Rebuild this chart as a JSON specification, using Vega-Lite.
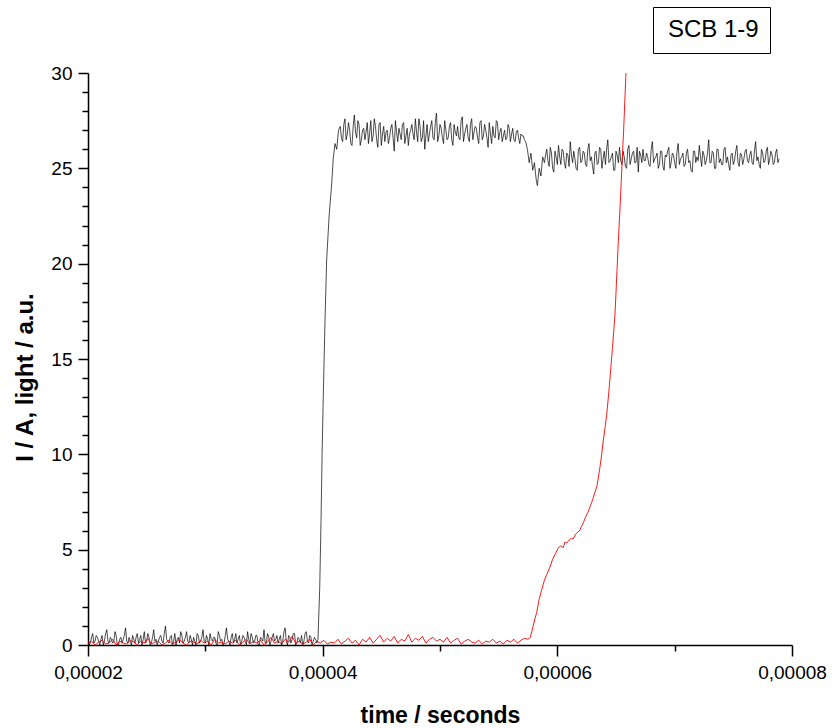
{
"$schema":"https://vega.github.io/schema/vega-lite/v6.json",
"width":704,"height":572,
"autosize":{"type":"none"},
"padding":{"left":88,"top":73,"right":40,"bottom":83},
"background":"#ffffff",
"config":{
"view":{"stroke":null},
"font":"Liberation Sans",
"axis":{"domainColor":"#000000","domainWidth":1.5,"tickColor":"#000000","tickWidth":1.5,"labelFont":"Liberation Sans","labelFontSize":19,"labelColor":"#000000","titleFont":"Liberation Sans","titleFontSize":23,"titleFontWeight":"bold","titleColor":"#000000","grid":false,"labelOverlap":false,"labelBound":false,"labelFlush":false},
"legend":{"labelFont":"Liberation Sans"}
},
"datasets":{
"black":[
{"t":2.00e-5,"v":0.3},{"t":2.02e-5,"v":0.1},{"t":2.04e-5,"v":0.6},{"t":2.06e-5,"v":0.2},{"t":2.08e-5,"v":0.4},{"t":2.10e-5,"v":0.0},{"t":2.12e-5,"v":0.5},{"t":2.14e-5,"v":0.2},{"t":2.16e-5,"v":0.8},{"t":2.18e-5,"v":0.1},
{"t":2.20e-5,"v":0.3},{"t":2.22e-5,"v":0.2},{"t":2.24e-5,"v":0.5},{"t":2.26e-5,"v":0.0},{"t":2.28e-5,"v":0.4},{"t":2.30e-5,"v":0.3},{"t":2.32e-5,"v":0.9},{"t":2.34e-5,"v":0.1},{"t":2.36e-5,"v":0.2},{"t":2.38e-5,"v":0.5},
{"t":2.40e-5,"v":0.1},{"t":2.42e-5,"v":0.6},{"t":2.44e-5,"v":0.3},{"t":2.46e-5,"v":0.0},{"t":2.48e-5,"v":0.7},{"t":2.50e-5,"v":0.2},{"t":2.52e-5,"v":0.4},{"t":2.54e-5,"v":0.1},{"t":2.56e-5,"v":0.8},{"t":2.58e-5,"v":0.3},
{"t":2.60e-5,"v":0.2},{"t":2.62e-5,"v":0.5},{"t":2.64e-5,"v":0.1},{"t":2.66e-5,"v":1.0},{"t":2.68e-5,"v":0.2},{"t":2.70e-5,"v":0.4},{"t":2.72e-5,"v":0.0},{"t":2.74e-5,"v":0.6},{"t":2.76e-5,"v":0.3},{"t":2.78e-5,"v":0.1},
{"t":2.80e-5,"v":0.5},{"t":2.82e-5,"v":0.2},{"t":2.84e-5,"v":0.7},{"t":2.86e-5,"v":0.1},{"t":2.88e-5,"v":0.3},{"t":2.90e-5,"v":0.4},{"t":2.92e-5,"v":0.0},{"t":2.94e-5,"v":0.5},{"t":2.96e-5,"v":0.2},{"t":2.98e-5,"v":0.8},
{"t":3.00e-5,"v":0.1},{"t":3.02e-5,"v":0.3},{"t":3.04e-5,"v":0.6},{"t":3.06e-5,"v":0.2},{"t":3.08e-5,"v":0.4},{"t":3.10e-5,"v":0.0},{"t":3.12e-5,"v":0.5},{"t":3.14e-5,"v":0.3},{"t":3.16e-5,"v":0.1},{"t":3.18e-5,"v":0.9},
{"t":3.20e-5,"v":0.2},{"t":3.22e-5,"v":0.4},{"t":3.24e-5,"v":0.1},{"t":3.26e-5,"v":0.6},{"t":3.28e-5,"v":0.3},{"t":3.30e-5,"v":0.0},{"t":3.32e-5,"v":0.5},{"t":3.34e-5,"v":0.2},{"t":3.36e-5,"v":0.7},{"t":3.38e-5,"v":0.1},
{"t":3.40e-5,"v":0.4},{"t":3.42e-5,"v":0.2},{"t":3.44e-5,"v":0.5},{"t":3.46e-5,"v":0.0},{"t":3.48e-5,"v":0.3},{"t":3.50e-5,"v":0.8},{"t":3.52e-5,"v":0.1},{"t":3.54e-5,"v":0.4},{"t":3.56e-5,"v":0.2},{"t":3.58e-5,"v":0.6},
{"t":3.60e-5,"v":0.3},{"t":3.62e-5,"v":0.1},{"t":3.64e-5,"v":0.5},{"t":3.66e-5,"v":0.2},{"t":3.68e-5,"v":0.9},{"t":3.70e-5,"v":0.0},{"t":3.72e-5,"v":0.4},{"t":3.74e-5,"v":0.3},{"t":3.76e-5,"v":0.6},{"t":3.78e-5,"v":0.1},
{"t":3.80e-5,"v":0.3},{"t":3.82e-5,"v":0.5},{"t":3.84e-5,"v":0.2},{"t":3.86e-5,"v":0.7},{"t":3.88e-5,"v":0.1},{"t":3.90e-5,"v":0.4},{"t":3.92e-5,"v":0.2},{"t":3.94e-5,"v":0.3},{"t":3.96e-5,"v":0.3},
{"t":3.975e-5,"v":3.0},{"t":3.986e-5,"v":6.5},{"t":3.995e-5,"v":10.0},{"t":4.005e-5,"v":13.0},{"t":4.02e-5,"v":17.0},{"t":4.034e-5,"v":20.2},{"t":4.055e-5,"v":22.5},{"t":4.077e-5,"v":24.2},{"t":4.09e-5,"v":25.5},{"t":4.105e-5,"v":26.3},{"t":4.12e-5,"v":26.0},{"t":4.135e-5,"v":27.0},
{"t":4.15e-5,"v":27.2},{"t":4.17e-5,"v":26.4},{"t":4.19e-5,"v":27.6},{"t":4.21e-5,"v":26.8},{"t":4.23e-5,"v":27.0},{"t":4.25e-5,"v":26.2},{"t":4.27e-5,"v":27.8},{"t":4.29e-5,"v":26.6},{"t":4.31e-5,"v":27.3},{"t":4.33e-5,"v":26.5},
{"t":4.35e-5,"v":27.1},{"t":4.37e-5,"v":26.9},{"t":4.39e-5,"v":26.3},{"t":4.41e-5,"v":27.5},{"t":4.43e-5,"v":26.7},{"t":4.45e-5,"v":27.2},{"t":4.47e-5,"v":26.1},{"t":4.49e-5,"v":27.4},{"t":4.51e-5,"v":26.8},{"t":4.53e-5,"v":26.4},
{"t":4.55e-5,"v":27.0},{"t":4.57e-5,"v":26.6},{"t":4.59e-5,"v":27.3},{"t":4.61e-5,"v":25.9},{"t":4.63e-5,"v":26.9},{"t":4.65e-5,"v":27.1},{"t":4.67e-5,"v":26.5},{"t":4.69e-5,"v":27.4},{"t":4.71e-5,"v":26.7},{"t":4.73e-5,"v":26.2},
{"t":4.75e-5,"v":27.0},{"t":4.77e-5,"v":26.8},{"t":4.79e-5,"v":27.6},{"t":4.81e-5,"v":26.4},{"t":4.83e-5,"v":27.2},{"t":4.85e-5,"v":26.6},{"t":4.87e-5,"v":26.0},{"t":4.89e-5,"v":27.3},{"t":4.91e-5,"v":26.8},{"t":4.93e-5,"v":27.5},
{"t":4.95e-5,"v":26.5},{"t":4.97e-5,"v":27.9},{"t":4.99e-5,"v":26.7},{"t":5.01e-5,"v":27.1},{"t":5.03e-5,"v":26.3},{"t":5.05e-5,"v":27.0},{"t":5.07e-5,"v":26.6},{"t":5.09e-5,"v":27.4},{"t":5.11e-5,"v":26.2},{"t":5.13e-5,"v":26.9},
{"t":5.15e-5,"v":27.2},{"t":5.17e-5,"v":26.5},{"t":5.19e-5,"v":27.7},{"t":5.21e-5,"v":26.8},{"t":5.23e-5,"v":27.3},{"t":5.25e-5,"v":26.4},{"t":5.27e-5,"v":27.6},{"t":5.29e-5,"v":26.9},{"t":5.31e-5,"v":27.1},{"t":5.33e-5,"v":26.3},
{"t":5.35e-5,"v":27.5},{"t":5.37e-5,"v":26.7},{"t":5.39e-5,"v":27.0},{"t":5.41e-5,"v":26.1},{"t":5.43e-5,"v":26.8},{"t":5.45e-5,"v":27.2},{"t":5.47e-5,"v":26.6},{"t":5.49e-5,"v":27.4},{"t":5.51e-5,"v":26.9},{"t":5.53e-5,"v":26.4},
{"t":5.55e-5,"v":27.0},{"t":5.57e-5,"v":26.6},{"t":5.59e-5,"v":27.1},{"t":5.61e-5,"v":26.8},{"t":5.63e-5,"v":26.5},{"t":5.65e-5,"v":26.9},{"t":5.67e-5,"v":26.6},{"t":5.69e-5,"v":26.8},{"t":5.71e-5,"v":26.7},{"t":5.73e-5,"v":26.4},
{"t":5.745e-5,"v":26.0},{"t":5.76e-5,"v":25.3},{"t":5.775e-5,"v":25.8},{"t":5.79e-5,"v":24.9},{"t":5.805e-5,"v":25.3},{"t":5.82e-5,"v":24.4},{"t":5.83e-5,"v":24.1},{"t":5.845e-5,"v":25.0},{"t":5.86e-5,"v":24.6},{"t":5.875e-5,"v":25.6},
{"t":5.89e-5,"v":25.3},{"t":5.91e-5,"v":26.0},{"t":5.93e-5,"v":25.1},{"t":5.95e-5,"v":25.8},{"t":5.97e-5,"v":24.8},{"t":5.99e-5,"v":25.6},{"t":6.01e-5,"v":26.2},{"t":6.03e-5,"v":25.2},{"t":6.05e-5,"v":25.9},{"t":6.07e-5,"v":25.0},
{"t":6.09e-5,"v":25.7},{"t":6.11e-5,"v":26.4},{"t":6.13e-5,"v":25.3},{"t":6.15e-5,"v":25.5},{"t":6.17e-5,"v":24.9},{"t":6.19e-5,"v":26.1},{"t":6.21e-5,"v":25.4},{"t":6.23e-5,"v":25.8},{"t":6.25e-5,"v":25.1},{"t":6.27e-5,"v":26.3},
{"t":6.29e-5,"v":25.6},{"t":6.31e-5,"v":24.7},{"t":6.33e-5,"v":25.9},{"t":6.35e-5,"v":25.3},{"t":6.37e-5,"v":26.0},{"t":6.39e-5,"v":25.5},{"t":6.41e-5,"v":25.2},{"t":6.43e-5,"v":26.5},{"t":6.45e-5,"v":25.4},{"t":6.47e-5,"v":25.8},
{"t":6.49e-5,"v":24.9},{"t":6.51e-5,"v":25.7},{"t":6.53e-5,"v":26.1},{"t":6.55e-5,"v":25.2},{"t":6.57e-5,"v":25.6},{"t":6.59e-5,"v":25.0},{"t":6.61e-5,"v":26.2},{"t":6.63e-5,"v":25.5},{"t":6.65e-5,"v":25.9},{"t":6.67e-5,"v":25.3},
{"t":6.69e-5,"v":24.8},{"t":6.71e-5,"v":25.7},{"t":6.73e-5,"v":26.0},{"t":6.75e-5,"v":25.4},{"t":6.77e-5,"v":25.6},{"t":6.79e-5,"v":25.1},{"t":6.81e-5,"v":26.4},{"t":6.83e-5,"v":25.5},{"t":6.85e-5,"v":25.8},{"t":6.87e-5,"v":25.2},
{"t":6.89e-5,"v":25.9},{"t":6.91e-5,"v":24.9},{"t":6.93e-5,"v":25.6},{"t":6.95e-5,"v":26.1},{"t":6.97e-5,"v":25.3},{"t":6.99e-5,"v":25.7},{"t":7.01e-5,"v":25.0},{"t":7.03e-5,"v":26.3},{"t":7.05e-5,"v":25.5},{"t":7.07e-5,"v":25.8},
{"t":7.09e-5,"v":25.2},{"t":7.11e-5,"v":26.0},{"t":7.13e-5,"v":25.4},{"t":7.15e-5,"v":24.8},{"t":7.17e-5,"v":25.9},{"t":7.19e-5,"v":25.6},{"t":7.21e-5,"v":26.2},{"t":7.23e-5,"v":25.1},{"t":7.25e-5,"v":25.7},{"t":7.27e-5,"v":25.4},
{"t":7.29e-5,"v":26.5},{"t":7.31e-5,"v":25.3},{"t":7.33e-5,"v":25.8},{"t":7.35e-5,"v":25.0},{"t":7.37e-5,"v":26.0},{"t":7.39e-5,"v":25.5},{"t":7.41e-5,"v":25.2},{"t":7.43e-5,"v":26.1},{"t":7.45e-5,"v":25.6},{"t":7.47e-5,"v":24.9},
{"t":7.49e-5,"v":25.8},{"t":7.51e-5,"v":25.4},{"t":7.53e-5,"v":26.2},{"t":7.55e-5,"v":25.1},{"t":7.57e-5,"v":25.7},{"t":7.59e-5,"v":25.5},{"t":7.61e-5,"v":26.0},{"t":7.63e-5,"v":25.3},{"t":7.65e-5,"v":25.9},{"t":7.67e-5,"v":25.2},
{"t":7.69e-5,"v":26.4},{"t":7.71e-5,"v":25.6},{"t":7.73e-5,"v":25.0},{"t":7.75e-5,"v":25.8},{"t":7.77e-5,"v":25.4},{"t":7.79e-5,"v":26.1},{"t":7.81e-5,"v":25.5},{"t":7.83e-5,"v":25.7},{"t":7.85e-5,"v":25.3},{"t":7.87e-5,"v":26.0},
{"t":7.89e-5,"v":25.5},
{"t":2.01e-5,"v":0.0},{"t":2.03e-5,"v":0.4},{"t":2.05e-5,"v":0.1},{"t":2.07e-5,"v":0.5},{"t":2.09e-5,"v":0.2},{"t":2.11e-5,"v":0.3},{"t":2.13e-5,"v":0.0},{"t":2.15e-5,"v":0.6},{"t":2.17e-5,"v":0.2},{"t":2.19e-5,"v":0.4},
{"t":2.21e-5,"v":0.1},{"t":2.23e-5,"v":0.7},{"t":2.25e-5,"v":0.0},{"t":2.27e-5,"v":0.3},{"t":2.29e-5,"v":0.1},{"t":2.31e-5,"v":0.5},{"t":2.33e-5,"v":0.2},{"t":2.35e-5,"v":0.4},{"t":2.37e-5,"v":0.0},{"t":2.39e-5,"v":0.3},
{"t":2.41e-5,"v":0.4},{"t":2.43e-5,"v":0.1},{"t":2.45e-5,"v":0.5},{"t":2.47e-5,"v":0.3},{"t":2.49e-5,"v":0.1},{"t":2.51e-5,"v":0.6},{"t":2.53e-5,"v":0.0},{"t":2.55e-5,"v":0.4},{"t":2.57e-5,"v":0.2},{"t":2.59e-5,"v":0.0},
{"t":2.61e-5,"v":0.4},{"t":2.63e-5,"v":0.2},{"t":2.65e-5,"v":0.6},{"t":2.67e-5,"v":0.3},{"t":2.69e-5,"v":0.1},{"t":2.71e-5,"v":0.5},{"t":2.73e-5,"v":0.2},{"t":2.75e-5,"v":0.0},{"t":2.77e-5,"v":0.4},{"t":2.79e-5,"v":0.7},
{"t":2.81e-5,"v":0.1},{"t":2.83e-5,"v":0.4},{"t":2.85e-5,"v":0.2},{"t":2.87e-5,"v":0.5},{"t":2.89e-5,"v":0.0},{"t":2.91e-5,"v":0.2},{"t":2.93e-5,"v":0.6},{"t":2.95e-5,"v":0.1},{"t":2.97e-5,"v":0.4},{"t":2.99e-5,"v":0.2},
{"t":3.01e-5,"v":0.5},{"t":3.03e-5,"v":0.0},{"t":3.05e-5,"v":0.3},{"t":3.07e-5,"v":0.4},{"t":3.09e-5,"v":0.1},{"t":3.11e-5,"v":0.7},{"t":3.13e-5,"v":0.2},{"t":3.15e-5,"v":0.0},{"t":3.17e-5,"v":0.5},{"t":3.19e-5,"v":0.3},
{"t":3.21e-5,"v":0.0},{"t":3.23e-5,"v":0.6},{"t":3.25e-5,"v":0.3},{"t":3.27e-5,"v":0.1},{"t":3.29e-5,"v":0.5},{"t":3.31e-5,"v":0.2},{"t":3.33e-5,"v":0.4},{"t":3.35e-5,"v":0.0},{"t":3.37e-5,"v":0.3},{"t":3.39e-5,"v":0.6},
{"t":3.41e-5,"v":0.1},{"t":3.43e-5,"v":0.5},{"t":3.45e-5,"v":0.0},{"t":3.47e-5,"v":0.4},{"t":3.49e-5,"v":0.2},{"t":3.51e-5,"v":0.1},{"t":3.53e-5,"v":0.6},{"t":3.55e-5,"v":0.0},{"t":3.57e-5,"v":0.4},{"t":3.59e-5,"v":0.2},
{"t":3.61e-5,"v":0.5},{"t":3.63e-5,"v":0.3},{"t":3.65e-5,"v":0.0},{"t":3.67e-5,"v":0.7},{"t":3.69e-5,"v":0.2},{"t":3.71e-5,"v":0.5},{"t":3.73e-5,"v":0.1},{"t":3.75e-5,"v":0.6},{"t":3.77e-5,"v":0.0},{"t":3.79e-5,"v":0.4},
{"t":3.81e-5,"v":0.1},{"t":3.83e-5,"v":0.0},{"t":3.85e-5,"v":0.6},{"t":3.87e-5,"v":0.2},{"t":3.89e-5,"v":0.5},{"t":3.91e-5,"v":0.0},{"t":3.93e-5,"v":0.4},{"t":3.95e-5,"v":0.1},
{"t":4.16e-5,"v":26.6},{"t":4.18e-5,"v":27.3},{"t":4.20e-5,"v":26.5},{"t":4.22e-5,"v":27.4},{"t":4.24e-5,"v":26.3},{"t":4.26e-5,"v":27.2},{"t":4.28e-5,"v":26.9},{"t":4.30e-5,"v":27.5},{"t":4.32e-5,"v":26.2},{"t":4.34e-5,"v":27.0},
{"t":4.36e-5,"v":26.5},{"t":4.38e-5,"v":27.4},{"t":4.40e-5,"v":26.8},{"t":4.42e-5,"v":26.4},{"t":4.44e-5,"v":27.6},{"t":4.46e-5,"v":26.5},{"t":4.48e-5,"v":27.3},{"t":4.50e-5,"v":26.2},{"t":4.52e-5,"v":27.2},{"t":4.54e-5,"v":26.9},
{"t":4.56e-5,"v":26.3},{"t":4.58e-5,"v":27.1},{"t":4.60e-5,"v":26.6},{"t":4.62e-5,"v":27.5},{"t":4.64e-5,"v":26.4},{"t":4.66e-5,"v":26.8},{"t":4.68e-5,"v":27.3},{"t":4.70e-5,"v":26.3},{"t":4.72e-5,"v":27.1},{"t":4.74e-5,"v":26.8},
{"t":4.76e-5,"v":27.3},{"t":4.78e-5,"v":26.5},{"t":4.80e-5,"v":26.9},{"t":4.82e-5,"v":27.6},{"t":4.84e-5,"v":26.4},{"t":4.86e-5,"v":27.5},{"t":4.88e-5,"v":26.7},{"t":4.90e-5,"v":26.4},{"t":4.92e-5,"v":27.2},{"t":4.94e-5,"v":26.6},
{"t":4.96e-5,"v":27.4},{"t":4.98e-5,"v":26.4},{"t":5.00e-5,"v":27.3},{"t":5.02e-5,"v":26.6},{"t":5.04e-5,"v":27.5},{"t":5.06e-5,"v":26.5},{"t":5.08e-5,"v":27.2},{"t":5.10e-5,"v":26.5},{"t":5.12e-5,"v":27.3},{"t":5.14e-5,"v":26.7},
{"t":5.16e-5,"v":26.6},{"t":5.18e-5,"v":27.5},{"t":5.20e-5,"v":26.4},{"t":5.22e-5,"v":27.1},{"t":5.24e-5,"v":26.6},{"t":5.26e-5,"v":27.3},{"t":5.28e-5,"v":26.5},{"t":5.30e-5,"v":27.2},{"t":5.32e-5,"v":26.6},{"t":5.34e-5,"v":27.4},
{"t":5.36e-5,"v":26.5},{"t":5.38e-5,"v":27.3},{"t":5.40e-5,"v":26.6},{"t":5.42e-5,"v":27.4},{"t":5.44e-5,"v":26.3},{"t":5.46e-5,"v":26.7},{"t":5.48e-5,"v":27.5},{"t":5.50e-5,"v":26.5},{"t":5.52e-5,"v":27.1},{"t":5.54e-5,"v":26.7},
{"t":5.56e-5,"v":26.5},{"t":5.58e-5,"v":27.3},{"t":5.60e-5,"v":26.4},{"t":5.62e-5,"v":27.1},{"t":5.64e-5,"v":26.4},{"t":5.66e-5,"v":27.0},{"t":5.68e-5,"v":26.3},{"t":5.70e-5,"v":26.7},{"t":5.72e-5,"v":26.5},
{"t":5.90e-5,"v":25.7},{"t":5.92e-5,"v":25.4},{"t":5.94e-5,"v":26.1},{"t":5.96e-5,"v":25.0},{"t":5.98e-5,"v":25.9},{"t":6.00e-5,"v":25.2},{"t":6.02e-5,"v":25.6},{"t":6.04e-5,"v":26.0},{"t":6.06e-5,"v":25.3},{"t":6.08e-5,"v":25.8},
{"t":6.10e-5,"v":25.1},{"t":6.12e-5,"v":25.7},{"t":6.14e-5,"v":25.9},{"t":6.16e-5,"v":25.0},{"t":6.18e-5,"v":26.0},{"t":6.20e-5,"v":25.3},{"t":6.22e-5,"v":25.9},{"t":6.24e-5,"v":25.2},{"t":6.26e-5,"v":26.0},{"t":6.28e-5,"v":25.4},
{"t":6.30e-5,"v":25.1},{"t":6.32e-5,"v":25.8},{"t":6.34e-5,"v":25.2},{"t":6.36e-5,"v":26.1},{"t":6.38e-5,"v":25.0},{"t":6.40e-5,"v":25.9},{"t":6.42e-5,"v":26.0},{"t":6.44e-5,"v":25.3},{"t":6.46e-5,"v":25.6},{"t":6.48e-5,"v":24.9},
{"t":6.50e-5,"v":25.9},{"t":6.52e-5,"v":25.3},{"t":6.54e-5,"v":25.4},{"t":6.56e-5,"v":25.9},{"t":6.58e-5,"v":25.1},{"t":6.60e-5,"v":26.0},{"t":6.62e-5,"v":25.2},{"t":6.64e-5,"v":25.8},{"t":6.66e-5,"v":25.3},{"t":6.68e-5,"v":26.1},
{"t":6.70e-5,"v":25.9},{"t":6.72e-5,"v":25.3},{"t":6.74e-5,"v":25.4},{"t":6.76e-5,"v":25.8},{"t":6.78e-5,"v":25.2},{"t":6.80e-5,"v":26.0},{"t":6.82e-5,"v":25.3},{"t":6.84e-5,"v":25.6},{"t":6.86e-5,"v":25.0},{"t":6.88e-5,"v":25.9},
{"t":6.90e-5,"v":25.1},{"t":6.92e-5,"v":25.7},{"t":6.94e-5,"v":25.9},{"t":6.96e-5,"v":25.0},{"t":6.98e-5,"v":25.8},{"t":7.00e-5,"v":25.3},{"t":7.02e-5,"v":25.9},{"t":7.04e-5,"v":25.2},{"t":7.06e-5,"v":25.6},{"t":7.08e-5,"v":25.1},
{"t":7.10e-5,"v":25.8},{"t":7.12e-5,"v":25.3},{"t":7.14e-5,"v":24.9},{"t":7.16e-5,"v":25.9},{"t":7.18e-5,"v":25.3},{"t":7.20e-5,"v":25.4},{"t":7.22e-5,"v":25.6},{"t":7.24e-5,"v":25.9},{"t":7.26e-5,"v":25.2},{"t":7.28e-5,"v":25.8},
{"t":7.30e-5,"v":25.3},{"t":7.32e-5,"v":25.9},{"t":7.34e-5,"v":25.0},{"t":7.36e-5,"v":26.0},{"t":7.38e-5,"v":25.3},{"t":7.40e-5,"v":25.2},{"t":7.42e-5,"v":26.0},{"t":7.44e-5,"v":25.3},{"t":7.46e-5,"v":25.2},{"t":7.48e-5,"v":25.7},
{"t":7.50e-5,"v":25.2},{"t":7.52e-5,"v":25.9},{"t":7.54e-5,"v":25.3},{"t":7.56e-5,"v":25.8},{"t":7.58e-5,"v":25.2},{"t":7.60e-5,"v":25.9},{"t":7.62e-5,"v":25.4},{"t":7.64e-5,"v":25.7},{"t":7.66e-5,"v":25.3},{"t":7.68e-5,"v":25.9},
{"t":7.70e-5,"v":25.4},{"t":7.72e-5,"v":25.2},{"t":7.74e-5,"v":26.0},{"t":7.76e-5,"v":25.3},{"t":7.78e-5,"v":25.9},{"t":7.80e-5,"v":25.2},{"t":7.82e-5,"v":25.9},{"t":7.84e-5,"v":25.2},{"t":7.86e-5,"v":25.8},{"t":7.88e-5,"v":25.3}
],
"red":[
{"t":2.00e-5,"v":0.1},{"t":2.03e-5,"v":0.2},{"t":2.06e-5,"v":0.0},{"t":2.09e-5,"v":0.15},{"t":2.12e-5,"v":0.25},{"t":2.15e-5,"v":0.05},{"t":2.18e-5,"v":0.1},{"t":2.21e-5,"v":0.3},{"t":2.24e-5,"v":0.0},{"t":2.27e-5,"v":0.2},
{"t":2.30e-5,"v":0.1},{"t":2.33e-5,"v":0.05},{"t":2.36e-5,"v":0.25},{"t":2.39e-5,"v":0.15},{"t":2.42e-5,"v":0.0},{"t":2.45e-5,"v":0.2},{"t":2.48e-5,"v":0.1},{"t":2.51e-5,"v":0.35},{"t":2.54e-5,"v":0.05},{"t":2.57e-5,"v":0.15},
{"t":2.60e-5,"v":0.2},{"t":2.63e-5,"v":0.0},{"t":2.66e-5,"v":0.1},{"t":2.69e-5,"v":0.25},{"t":2.72e-5,"v":0.05},{"t":2.75e-5,"v":0.15},{"t":2.78e-5,"v":0.3},{"t":2.81e-5,"v":0.1},{"t":2.84e-5,"v":0.0},{"t":2.87e-5,"v":0.2},
{"t":2.90e-5,"v":0.15},{"t":2.93e-5,"v":0.05},{"t":2.96e-5,"v":0.25},{"t":2.99e-5,"v":0.1},{"t":3.02e-5,"v":0.2},{"t":3.05e-5,"v":0.0},{"t":3.08e-5,"v":0.3},{"t":3.11e-5,"v":0.1},{"t":3.14e-5,"v":0.15},{"t":3.17e-5,"v":0.05},
{"t":3.20e-5,"v":0.2},{"t":3.23e-5,"v":0.1},{"t":3.26e-5,"v":0.25},{"t":3.29e-5,"v":0.0},{"t":3.32e-5,"v":0.15},{"t":3.35e-5,"v":0.3},{"t":3.38e-5,"v":0.05},{"t":3.41e-5,"v":0.2},{"t":3.44e-5,"v":0.1},{"t":3.47e-5,"v":0.25},
{"t":3.50e-5,"v":0.0},{"t":3.53e-5,"v":0.15},{"t":3.56e-5,"v":0.4},{"t":3.59e-5,"v":0.1},{"t":3.62e-5,"v":0.2},{"t":3.65e-5,"v":0.05},{"t":3.68e-5,"v":0.3},{"t":3.71e-5,"v":0.15},{"t":3.74e-5,"v":0.45},{"t":3.77e-5,"v":0.1},
{"t":3.80e-5,"v":0.2},{"t":3.83e-5,"v":0.05},{"t":3.86e-5,"v":0.15},{"t":3.89e-5,"v":0.3},{"t":3.92e-5,"v":0.0},{"t":3.95e-5,"v":0.2},{"t":3.98e-5,"v":0.1},{"t":4.01e-5,"v":0.25},{"t":4.04e-5,"v":0.05},{"t":4.07e-5,"v":0.15},
{"t":4.10e-5,"v":0.1},{"t":4.13e-5,"v":0.3},{"t":4.16e-5,"v":0.05},{"t":4.19e-5,"v":0.2},{"t":4.22e-5,"v":0.35},{"t":4.25e-5,"v":0.1},{"t":4.28e-5,"v":0.25},{"t":4.31e-5,"v":0.0},{"t":4.34e-5,"v":0.3},{"t":4.37e-5,"v":0.15},
{"t":4.40e-5,"v":0.4},{"t":4.43e-5,"v":0.1},{"t":4.46e-5,"v":0.3},{"t":4.49e-5,"v":0.5},{"t":4.52e-5,"v":0.15},{"t":4.55e-5,"v":0.35},{"t":4.58e-5,"v":0.2},{"t":4.61e-5,"v":0.45},{"t":4.64e-5,"v":0.1},{"t":4.67e-5,"v":0.3},
{"t":4.70e-5,"v":0.2},{"t":4.73e-5,"v":0.55},{"t":4.76e-5,"v":0.15},{"t":4.79e-5,"v":0.35},{"t":4.82e-5,"v":0.25},{"t":4.85e-5,"v":0.45},{"t":4.88e-5,"v":0.1},{"t":4.91e-5,"v":0.3},{"t":4.94e-5,"v":0.4},{"t":4.97e-5,"v":0.2},
{"t":5.00e-5,"v":0.3},{"t":5.03e-5,"v":0.15},{"t":5.06e-5,"v":0.4},{"t":5.09e-5,"v":0.1},{"t":5.12e-5,"v":0.25},{"t":5.15e-5,"v":0.35},{"t":5.18e-5,"v":0.05},{"t":5.21e-5,"v":0.2},{"t":5.24e-5,"v":0.3},{"t":5.27e-5,"v":0.15},
{"t":5.30e-5,"v":0.1},{"t":5.33e-5,"v":0.25},{"t":5.36e-5,"v":0.05},{"t":5.39e-5,"v":0.2},{"t":5.42e-5,"v":0.15},{"t":5.45e-5,"v":0.3},{"t":5.48e-5,"v":0.1},{"t":5.51e-5,"v":0.2},{"t":5.54e-5,"v":0.05},{"t":5.57e-5,"v":0.25},
{"t":5.60e-5,"v":0.15},{"t":5.63e-5,"v":0.3},{"t":5.66e-5,"v":0.1},{"t":5.69e-5,"v":0.25},{"t":5.72e-5,"v":0.35},{"t":5.75e-5,"v":0.3},
{"t":5.77e-5,"v":0.4},{"t":5.79e-5,"v":0.9},{"t":5.81e-5,"v":1.4},{"t":5.824e-5,"v":1.7},{"t":5.845e-5,"v":2.4},{"t":5.867e-5,"v":2.9},{"t":5.89e-5,"v":3.4},{"t":5.91e-5,"v":3.7},{"t":5.938e-5,"v":4.1},{"t":5.96e-5,"v":4.5},
{"t":5.985e-5,"v":4.8},{"t":6.008e-5,"v":5.1},{"t":6.03e-5,"v":5.2},{"t":6.05e-5,"v":5.1},{"t":6.065e-5,"v":5.4},{"t":6.08e-5,"v":5.35},{"t":6.10e-5,"v":5.5},{"t":6.12e-5,"v":5.6},{"t":6.135e-5,"v":5.55},{"t":6.151e-5,"v":5.77},
{"t":6.17e-5,"v":5.9},{"t":6.19e-5,"v":6.0},{"t":6.205e-5,"v":6.2},{"t":6.221e-5,"v":6.4},{"t":6.24e-5,"v":6.7},{"t":6.26e-5,"v":6.95},{"t":6.279e-5,"v":7.25},{"t":6.30e-5,"v":7.6},{"t":6.32e-5,"v":8.0},{"t":6.336e-5,"v":8.3},
{"t":6.35e-5,"v":8.8},{"t":6.364e-5,"v":9.35},{"t":6.378e-5,"v":10.0},{"t":6.392e-5,"v":10.75},{"t":6.407e-5,"v":11.4},{"t":6.421e-5,"v":12.1},{"t":6.435e-5,"v":13.0},{"t":6.449e-5,"v":14.0},{"t":6.47e-5,"v":15.6},{"t":6.492e-5,"v":17.4},
{"t":6.506e-5,"v":19.3},{"t":6.52e-5,"v":21.2},{"t":6.535e-5,"v":23.0},{"t":6.549e-5,"v":24.9},{"t":6.565e-5,"v":27.0},{"t":6.585e-5,"v":30.0},{"t":6.60e-5,"v":31.7}
]
},
"encoding":{
"x":{"field":"t","type":"quantitative","scale":{"domain":[0.00002,0.00008],"nice":false,"zero":false},
"axis":{"values":[0.00002,0.00003,0.00004,0.00005,0.00006,0.00007,0.00008],
"labelExpr":"round(datum.value*1e5) % 2 === 0 ? replace(format(datum.value, '.5f'), '.', ',') : ''",
"tickSize":{"condition":{"test":"round(datum.value*1e5) % 2 === 0","value":11},"value":6},
"labelPadding":7,
"title":"time / seconds","titleX":352,"titleY":70,"titleBaseline":"middle","titleAlign":"center"}},
"y":{"field":"v","type":"quantitative","scale":{"domain":[0,30],"nice":false,"zero":true},
"axis":{"values":[0,1,2,3,4,5,6,7,8,9,10,11,12,13,14,15,16,17,18,19,20,21,22,23,24,25,26,27,28,29,30],
"labelExpr":"datum.value % 5 === 0 ? datum.label : ''",
"tickSize":{"condition":{"test":"datum.value % 5 === 0","value":10},"value":6},
"labelPadding":6,"titleFontSize":24,
"title":"I / A, light / a.u.","titleX":-63,"titleY":304,"titleBaseline":"middle","titleAlign":"center","titleAngle":270}}
},
"layer":[
{"data":{"name":"black"},"mark":{"type":"line","strokeWidth":0.7,"clip":true},
"encoding":{"color":{"datum":"SCB 1-9","type":"nominal","scale":{"range":["#000000"]},
"legend":{"title":null,"orient":"none","legendX":565,"legendY":-66,"strokeColor":"#000000","padding":11,"labelFontSize":24,"labelColor":"#000000","symbolSize":0,"symbolStrokeWidth":0,"symbolOpacity":0,"labelOffset":-20,"fillColor":"#ffffff"}}}},
{"data":{"name":"red"},"mark":{"type":"line","strokeWidth":0.9,"color":"#ff0000","clip":true},"encoding":{}}
]
}
